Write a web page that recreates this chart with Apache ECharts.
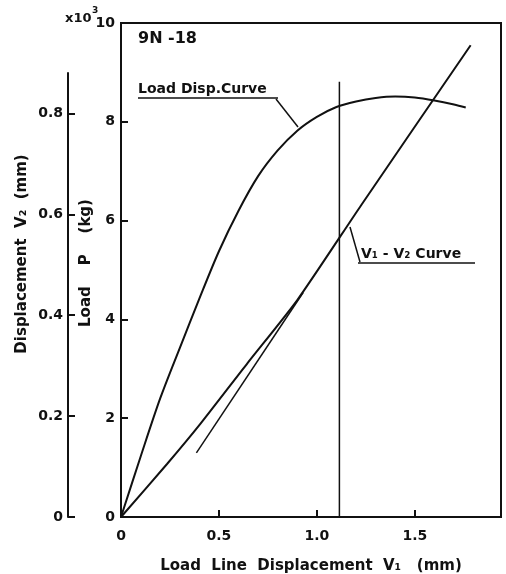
<!DOCTYPE html>
<html>
<head>
<meta charset="utf-8">
<script src="https://cdn.jsdelivr.net/npm/echarts@6/dist/echarts.min.js"></script>
<style>
  html, body { margin: 0; padding: 0; background: #fff; }
  #chart { width: 506px; height: 574px; }
</style>
</head>
<body>
<div id="chart"></div>
<script>
// load - load line displacement curve (P in 10^3 kg)
var loadV1 = [0, 0.1, 0.2, 0.3, 0.4, 0.5, 0.6, 0.7, 0.8, 0.9, 1.0, 1.1, 1.2, 1.3, 1.4, 1.5, 1.6, 1.7, 1.76];
var loadP = [0, 1.22, 2.4, 3.42, 4.42, 5.38, 6.2, 6.9, 7.42, 7.82, 8.1, 8.3, 8.41, 8.48, 8.51, 8.49, 8.43, 8.35, 8.29];

// V1 - V2 curve (mm)
var curveV1 = [0, 0.235, 0.406, 0.646, 0.9, 1.226, 1.785];
var curveV2 = [0, 0.105, 0.185, 0.305, 0.43, 0.618, 0.935];

// straight part of V1 - V2, drawn down past the curve
var fitV1 = [0.385, 0.93];
var fitV2 = [0.127, 0.445];

// vertical marker
var markV1 = [1.115, 1.115];
var markP = [0, 8.81];

var xMax = 1.94;
var loadMax = 10;
var v2Max = 0.88;

var FONT = "DejaVu Sans";
var INK = "#111";

function pairs(xs, ys) {
  return xs.map(function (x, i) { return [x, ys[i]]; });
}

var chart = echarts.init(document.getElementById("chart"), null, { renderer: "canvas" });

var labelStyle = { color: INK, fontFamily: FONT, fontWeight: "bold", fontSize: 14 };
var nameStyle = { color: INK, fontFamily: FONT, fontWeight: "bold", fontSize: 15 };

chart.setOption({
  backgroundColor: "#fff",
  animation: false,
  grid: [
    { left: 121, top: 23, right: 5, bottom: 57, outerBoundsMode: "none", show: true, borderColor: INK, borderWidth: 2 },
    { left: 121, top: 73, right: 5, bottom: 57, outerBoundsMode: "none", show: false }
  ],
  xAxis: [
    {
      gridIndex: 0,
      type: "value",
      min: 0,
      max: xMax,
      interval: 0.5,
      name: "Load  Line  Displacement  V\u2081   (mm)",
      nameLocation: "middle",
      nameGap: 42,
      nameTextStyle: nameStyle,
      axisLine: { lineStyle: { color: INK, width: 2 } },
      axisTick: { inside: true, length: 7, lineStyle: { color: INK, width: 2 } },
      axisLabel: Object.assign({
        margin: 12,
        showMaxLabel: false,
        formatter: function (v) { return v === 0 ? "0" : v.toFixed(1); }
      }, labelStyle),
      splitLine: { show: false }
    },
    {
      gridIndex: 1,
      type: "value",
      min: 0,
      max: xMax,
      show: false
    }
  ],
  yAxis: [
    {
      gridIndex: 0,
      type: "value",
      min: 0,
      max: loadMax,
      interval: 2,
      axisLine: { lineStyle: { color: INK, width: 2 } },
      axisTick: { inside: true, length: 7, lineStyle: { color: INK, width: 2 } },
      axisLabel: Object.assign({ margin: 6 }, labelStyle),
      splitLine: { show: false }
    },
    {
      gridIndex: 1,
      type: "value",
      position: "left",
      offset: 53,
      min: 0,
      max: v2Max,
      interval: 0.2,
      axisLine: { onZero: false, lineStyle: { color: INK, width: 2 } },
      axisTick: { inside: true, length: 7, lineStyle: { color: INK, width: 2 } },
      axisLabel: Object.assign({
        margin: 5,
        showMaxLabel: false,
        formatter: function (v) { return v === 0 ? "0" : v.toFixed(1); }
      }, labelStyle),
      splitLine: { show: false }
    }
  ],
  series: [
    {
      name: "Load Disp.Curve",
      type: "line",
      xAxisIndex: 0,
      yAxisIndex: 0,
      data: pairs(loadV1, loadP),
      smooth: 0.3,
      showSymbol: false,
      lineStyle: { color: INK, width: 2 }
    },
    {
      name: "marker",
      type: "line",
      xAxisIndex: 0,
      yAxisIndex: 0,
      data: pairs(markV1, markP),
      showSymbol: false,
      lineStyle: { color: INK, width: 1.5 }
    },
    {
      name: "V1 - V2 Curve",
      type: "line",
      xAxisIndex: 1,
      yAxisIndex: 1,
      data: pairs(curveV1, curveV2),
      smooth: 0.2,
      clip: false,
      showSymbol: false,
      lineStyle: { color: INK, width: 2 }
    },
    {
      name: "V1 - V2 straight",
      type: "line",
      xAxisIndex: 1,
      yAxisIndex: 1,
      data: pairs(fitV1, fitV2),
      clip: false,
      showSymbol: false,
      lineStyle: { color: INK, width: 1.5 }
    }
  ],
  graphic: [
    // axis titles
    {
      type: "text", x: 22, y: 254, rotation: Math.PI / 2,
      style: { text: "Displacement  V\u2082  (mm)", fill: INK, font: "bold 15px " + FONT, align: "center", verticalAlign: "middle" }
    },
    {
      type: "text", x: 86, y: 263, rotation: Math.PI / 2,
      style: { text: "Load    P    (kg)", fill: INK, font: "bold 15px " + FONT, align: "center", verticalAlign: "middle" }
    },
    // x10^3 multiplier next to the top tick
    { type: "text", left: 65, top: 12, style: { text: "x10", fill: INK, font: "bold 13px " + FONT } },
    { type: "text", left: 92, top: 6, style: { text: "3", fill: INK, font: "bold 9px " + FONT } },
    // specimen id
    { type: "text", left: 138, top: 31, style: { text: "9N -18", fill: INK, font: "bold 16px " + FONT } },
    // load curve tag
    { type: "text", left: 138, top: 82, style: { text: "Load Disp.Curve", fill: INK, font: "bold 14px " + FONT } },
    { type: "line", shape: { x1: 138, y1: 98, x2: 278, y2: 98 }, style: { stroke: INK, lineWidth: 1.5 } },
    { type: "line", shape: { x1: 276, y1: 99, x2: 298, y2: 127 }, style: { stroke: INK, lineWidth: 1.5 } },
    // V1 - V2 tag
    { type: "text", left: 361, top: 247, style: { text: "V\u2081 - V\u2082 Curve", fill: INK, font: "bold 14px " + FONT } },
    { type: "line", shape: { x1: 358, y1: 263, x2: 475, y2: 263 }, style: { stroke: INK, lineWidth: 1.5 } },
    { type: "line", shape: { x1: 360, y1: 262, x2: 350, y2: 227 }, style: { stroke: INK, lineWidth: 1.5 } }
  ]
});
</script>
</body>
</html>
